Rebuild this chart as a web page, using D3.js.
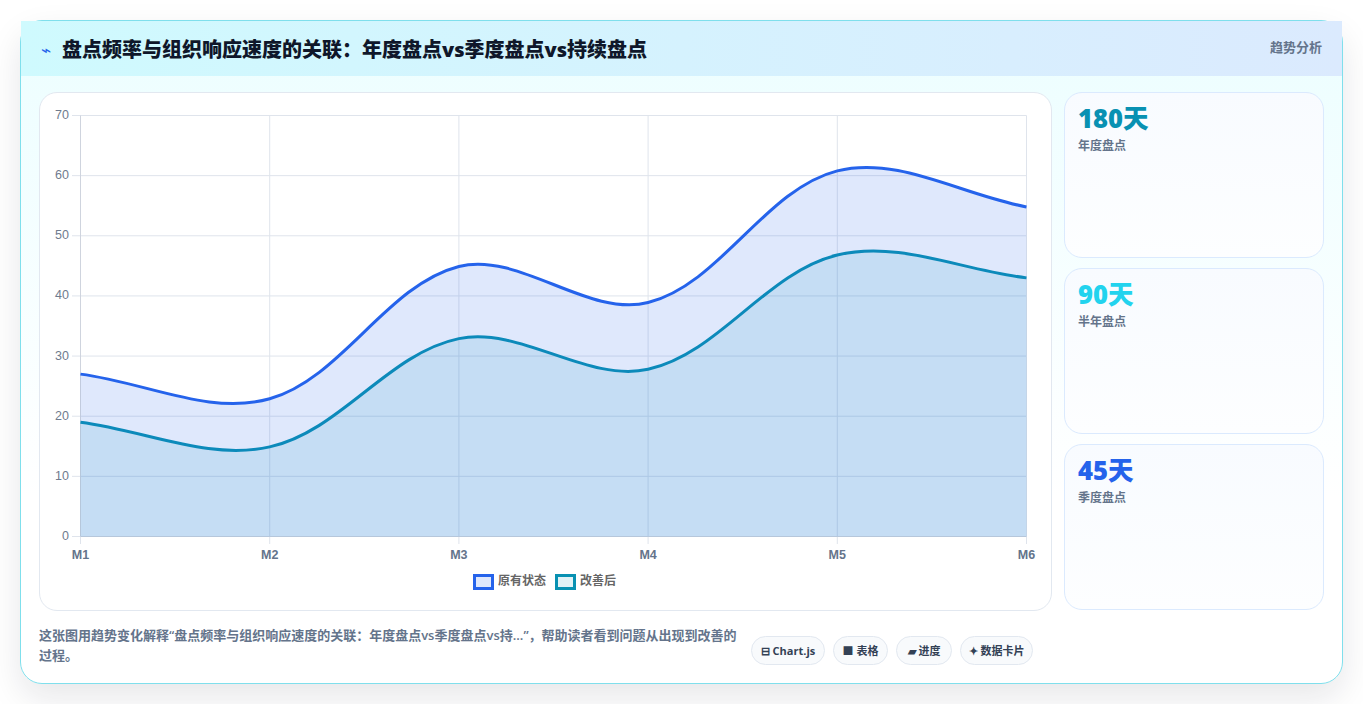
<!DOCTYPE html>
<html lang="zh">
<head>
<meta charset="utf-8">
<title>盘点频率与组织响应速度的关联</title>
<script src="https://cdn.jsdelivr.net/npm/d3@7/dist/d3.min.js"></script>
<style>
  * { box-sizing: border-box; }
  html, body { margin: 0; width: 1363px; height: 704px; overflow: hidden; background: #fff;
    font-family: "Open Sans", "Noto Sans CJK SC", sans-serif; }
  .card { position: absolute; left: 20px; top: 20px; width: 1323px; height: 664px;
    border: 1px solid #7fdfec; border-radius: 22px;
    background: linear-gradient(180deg, #ecfeff 0%, #ffffff 72%);
    box-shadow: 0 14px 34px rgba(15, 23, 42, 0.10); }
  .head { position: absolute; left: 0; top: 0; width: 1321px; height: 55px;
    background: linear-gradient(90deg, #cffafe 0%, #dbeafe 100%); }
  .bolt { position: absolute; font-size: 17px; color: #2563eb; line-height: 20px; }
  .title { position: absolute; font-size: 20px; line-height: 28px; font-weight: 800; color: #0f172a; white-space: nowrap; }
  .kind { position: absolute; font-size: 13px; line-height: 18px; font-weight: 600; color: #64748b; }
  .panel { position: absolute; left: 39px; top: 92px; width: 1013px; height: 519px; background: #fff;
    border: 1px solid #e2e8f0; border-radius: 18px; }
  .stat { position: absolute; left: 1064px; width: 260px; height: 166px; border: 1px solid #dbeafe; border-radius: 18px;
    background: linear-gradient(180deg, #f8fbff 0%, #fdfeff 100%); }
  .stat b { position: absolute; left: 13px; top: 8px; font-size: 25.6px; line-height: 36px; font-weight: 800; white-space: nowrap; }
  .stat span { position: absolute; left: 13px; top: 44px; font-size: 12px; line-height: 17px; font-weight: 600; color: #64748b; }
  .note { position: absolute; left: 39px; top: 625px; width: 704px; font-size: 13px; line-height: 20px; font-weight: 600; color: #64748b; }
  .chips { position: absolute; left: 751px; top: 636px; display: flex; gap: 8px; }
  .chip { height: 29px; border: 1px solid #e2e8f0; border-radius: 15px; background: #f8fafc; text-align: center;
    font-size: 11px; line-height: 27px; font-weight: 700; color: #334155; white-space: nowrap; }
  svg { position: absolute; left: 0; top: 0; }
</style>
</head>
<body>
<div class="card">
  <div class="head"></div>
</div>
<div class="title-layer"></div>
<div class="panel"></div>
<div class="stats"></div>
<div class="note">这张图用趋势变化解释“盘点频率与组织响应速度的关联：年度盘点vs季度盘点vs持...”，帮助读者看到问题从出现到改善的过程。</div>
<div class="chips"></div>
<svg id="chart" width="1363" height="704"></svg>
<script>
// Chart content
const titleText = "盘点频率与组织响应速度的关联：年度盘点vs季度盘点vs持续盘点";
const kindText = "趋势分析";
const months = ["M1", "M2", "M3", "M4", "M5", "M6"];
const yTicks = [0, 10, 20, 30, 40, 50, 60, 70];
const originalName = "原有状态";
const improvedName = "改善后";
const originalValues = [27, 22.9, 44.9, 38.9, 60.8, 54.8];
const improvedValues = [19, 14.9, 32.9, 27.8, 46.8, 43];
const statValues = ["180天", "90天", "45天"];
const statLabels = ["年度盘点", "半年盘点", "季度盘点"];
const statColors = ["#0891b2", "#22d3ee", "#2563eb"];
const chipLabels = ["⊟ Chart.js", "■ 表格", "▰ 进度", "✦ 数据卡片"];
const chipWidths = [74, 55, 56, 73];

// Header and side cards
const layer = d3.select(".title-layer");
layer.append("div").attr("class", "bolt").style("left", "41px").style("top", "40px").text("⌁");
layer.append("div").attr("class", "title").style("left", "62px").style("top", "36px").text(titleText);
layer.append("div").attr("class", "kind").style("right", "41px").style("top", "38px").text(kindText);

d3.select(".stats").selectAll("div").data(statValues).join("div")
  .attr("class", "stat")
  .style("top", (d, i) => (92 + i * 176) + "px")
  .each(function (d, i) {
    const s = d3.select(this);
    s.append("b").style("color", statColors[i]).text(d);
    s.append("span").text(statLabels[i]);
  });

d3.select(".chips").selectAll("div").data(chipLabels).join("div")
  .attr("class", "chip").style("width", (d, i) => chipWidths[i] + "px").text(d => d);

// Plot scales
const svg = d3.select("#chart");
const x = d3.scalePoint().domain(months).range([80.5, 1026.5]);
const y = d3.scaleLinear().domain([0, 70]).range([536.5, 115.5]);

// Grid, with the two axis edges a little stronger
const grid = svg.append("g").attr("stroke", "#dfe4ec").attr("stroke-width", 1);
grid.selectAll(".h").data(yTicks).join("line")
  .attr("x1", 72).attr("x2", x.range()[1]).attr("y1", y).attr("y2", y);
grid.selectAll(".v").data(months).join("line")
  .attr("x1", x).attr("x2", x).attr("y1", y(70)).attr("y2", 544);
svg.append("line").attr("x1", x("M1")).attr("x2", x("M1")).attr("y1", y(70)).attr("y2", y(0)).attr("stroke", "#cfd4de");
svg.append("line").attr("x1", x("M1")).attr("x2", x("M6")).attr("y1", y(0)).attr("y2", y(0)).attr("stroke", "#cfd4de");

// Smooth spline through the points, control arms weighted by segment length
const tension = 0.35;
function splinePath(values, closeToBase) {
  const pts = values.map((v, i) => [x(months[i]), y(v)]);
  const ctrl = pts.map((p, i) => {
    const a = pts[i - 1] || p, b = pts[i + 1] || p;
    const d01 = Math.hypot(p[0] - a[0], p[1] - a[1]);
    const d12 = Math.hypot(b[0] - p[0], b[1] - p[1]);
    const sum = d01 + d12 || 1;
    const fa = tension * d01 / sum, fb = tension * d12 / sum;
    return {
      prev: [p[0] - fa * (b[0] - a[0]), p[1] - fa * (b[1] - a[1])],
      next: [p[0] + fb * (b[0] - a[0]), p[1] + fb * (b[1] - a[1])]
    };
  });
  const path = d3.path();
  path.moveTo(pts[0][0], pts[0][1]);
  for (let i = 1; i < pts.length; i++) {
    path.bezierCurveTo(ctrl[i - 1].next[0], ctrl[i - 1].next[1], ctrl[i].prev[0], ctrl[i].prev[1], pts[i][0], pts[i][1]);
  }
  if (closeToBase) {
    path.lineTo(pts[pts.length - 1][0], y(0));
    path.lineTo(pts[0][0], y(0));
    path.closePath();
  }
  return path.toString();
}

const series = [
  { name: originalName, values: originalValues, stroke: "#2563eb", fill: "rgba(37,99,235,0.15)" },
  { name: improvedName, values: improvedValues, stroke: "#0891b2", fill: "rgba(8,145,178,0.12)" }
];
// The first series is painted last, so its wash also tints the second line
const layers = svg.append("g").selectAll("g").data(series.slice().reverse()).join("g");
layers.append("path").attr("d", d => splinePath(d.values, true)).attr("fill", d => d.fill);
layers.append("path").attr("d", d => splinePath(d.values, false)).attr("fill", "none")
  .attr("stroke", d => d.stroke).attr("stroke-width", 3);

// Axis labels
const tickFont = "Liberation Sans, Arial, sans-serif";
svg.append("g").selectAll("text").data(yTicks).join("text")
  .attr("x", 69).attr("y", d => y(d) + 3.5).attr("text-anchor", "end")
  .attr("font-family", tickFont).attr("font-size", 12.5).attr("fill", "#6f7b8e").text(d => d);
svg.append("g").selectAll("text").data(months).join("text")
  .attr("x", x).attr("y", 559).attr("text-anchor", "middle")
  .attr("font-family", tickFont).attr("font-size", 12.5).attr("font-weight", 700).attr("fill", "#64748b").text(d => d);

// Legend
const legendX = [473, 555], textX = [498, 580];
const legend = svg.append("g").selectAll("g").data(series).join("g");
legend.append("rect")
  .attr("x", (d, i) => legendX[i] + 1.5).attr("y", 575.5).attr("width", 18).attr("height", 13)
  .attr("fill", d => d.fill).attr("stroke", d => d.stroke).attr("stroke-width", 3);
legend.append("text")
  .attr("x", (d, i) => textX[i]).attr("y", 585)
  .attr("font-family", "Noto Sans CJK SC, sans-serif").attr("font-size", 12).attr("font-weight", 600)
  .attr("fill", "#666").text(d => d.name);
</script>
</body>
</html>
